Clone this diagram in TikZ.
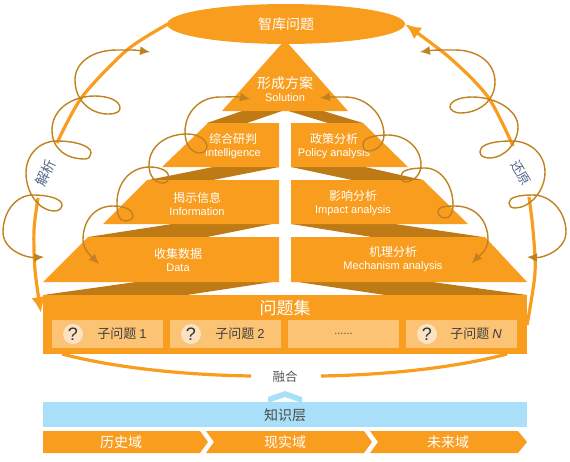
\documentclass[tikz,border=0pt]{standalone}
\usepackage{fontspec}
\setmainfont{Liberation Sans}
\newfontfamily\cjk{Noto Sans CJK SC}
\usepackage{tikz}
\usetikzlibrary{arrows.meta,positioning,shapes.geometric}

\definecolor{barorange}{HTML}{F99D1F}
\definecolor{banddark}{HTML}{BE7A14}
\definecolor{loopbrown}{HTML}{C0811F}
\definecolor{subfill}{HTML}{FCC375}
\definecolor{markfill}{HTML}{FBE2C2}
\definecolor{skyblue}{HTML}{A9DFF8}
\definecolor{slate}{HTML}{55688A}

\begin{document}
\begin{tikzpicture}[x=1pt,y=-1pt,>=Latex,
  block/.style={fill=barorange},
  band/.style={fill=banddark},
  toplabel/.style={text=white,align=center,inner sep=0pt,font=\cjk\fontsize{13}{15}\selectfont},
  twolabel/.style={text=white,align=center,inner sep=0pt},
  subbox/.style={fill=subfill,minimum width=111pt,minimum height=28pt,inner sep=0pt,outer sep=0pt},
  qmark/.style={circle,fill=markfill,minimum size=20pt,inner sep=0pt,text=black!80,font=\fontsize{18}{18}\selectfont},
  subtext/.style={text=black!75,inner sep=0pt,font=\cjk\fontsize{13}{15}\selectfont},
  bigarc/.style={draw=barorange,line width=3.2pt},
  bigtip/.style={-{Latex[length=16pt,width=14pt]}},
  looper/.style={draw=loopbrown,line width=1.4pt,{Latex[length=10pt,width=9pt]}-{Latex[length=10pt,width=9pt]}},
  sidelabel/.style={text=slate,inner sep=0pt,font=\cjk\fontsize{14}{16}\selectfont}]
  \useasboundingbox (0,0) rectangle (570,461);
  % pyramid, left and right
  \fill[band] (207,123) -- (245,110) -- (285,110) -- (247,123) -- cycle;
  \fill[band] (285,110) -- (320,110) -- (363,123) -- (328,123) -- cycle;
  \fill[band] (148,180) -- (213,167) -- (279,167) -- (213,180) -- cycle;
  \fill[band] (291,167) -- (365,167) -- (423,180) -- (352,180) -- cycle;
  \fill[band] (88,237) -- (172,224) -- (272,224) -- (207,237) -- cycle;
  \fill[band] (291,224) -- (395,224) -- (483,237) -- (372,237) -- cycle;
  \fill[band] (43,295) -- (143,281) -- (279,281) -- (180,296) -- cycle;
  \fill[band] (291,281) -- (425,281) -- (527,295) -- (392,296) -- cycle;
  \fill[block] (285,40) -- (222,111) -- (348,111) -- cycle;
  \fill[block] (208,123) -- (279,123) -- (279,167) -- (162,167) -- cycle;
  \fill[block] (147,180) -- (279,180) -- (279,224) -- (103,224) -- cycle;
  \fill[block] (88,237) -- (279,237) -- (279,282) -- (43,282) -- cycle;
  \fill[block] (291,123) -- (363,123) -- (408,167) -- (291,167) -- cycle;
  \fill[block] (291,180) -- (423,180) -- (468,224) -- (291,224) -- cycle;
  \fill[block] (291,237) -- (485,237) -- (527,282) -- (291,282) -- cycle;
  \node[block,ellipse,minimum width=238pt,minimum height=40pt,inner sep=0pt,text=white,
    font=\cjk\fontsize{14}{16}\selectfont] (think) at (286,24) {智库问题};
  % labels of the pyramid
  \node[twolabel] (solution) at (285,89) {{\cjk\fontsize{14}{16}\selectfont 形成方案}\\[1pt]{\fontsize{11}{12}\selectfont Solution}};
  \node[twolabel] (intel) at (233,146) {{\cjk\fontsize{12}{14}\selectfont 综合研判}\\[1pt]{\fontsize{11}{12}\selectfont Intelligence}};
  \node[twolabel] (info) at (197,204) {{\cjk\fontsize{12}{14}\selectfont 揭示信息}\\[1pt]{\fontsize{11}{12}\selectfont Information}};
  \node[twolabel] (data) at (178,260) {{\cjk\fontsize{12}{14}\selectfont 收集数据}\\[1pt]{\fontsize{11}{12}\selectfont Data}};
  \node[twolabel] (policy) at (334,146) {{\cjk\fontsize{12}{14}\selectfont 政策分析}\\[1pt]{\fontsize{11}{12}\selectfont Policy analysis}};
  \node[twolabel] (impact) at (353,203) {{\cjk\fontsize{12}{14}\selectfont 影响分析}\\[1pt]{\fontsize{11}{12}\selectfont Impact analysis}};
  \node[twolabel] (mech) at (393,259) {{\cjk\fontsize{12}{14}\selectfont 机理分析}\\[1pt]{\fontsize{11}{12}\selectfont Mechanism analysis}};
  % problem set
  \fill[block] (43,295) rectangle (527,354);
  \node[toplabel,font=\cjk\fontsize{17}{19}\selectfont] (problems) at (285,308) {问题集};
  \node[subbox] (sub1) at (107.5,334) {};
  \node[subbox,right=7pt of sub1] (sub2) {};
  \node[subbox,right=7pt of sub2] (sub3) {\fontsize{11}{12}\selectfont \textcolor{black!70}{......}};
  \node[subbox,right=7pt of sub3] (sub4) {};
  \foreach \n/\t in {sub1/1,sub2/2,sub4/\textit{N}}{
    \node[qmark,xshift=-34.5pt] (\n q) at (\n) {?};
    \node[subtext,xshift=14.5pt] (\n t) at (\n) {子问题 {\fontsize{13}{15}\selectfont\rmfamily\t}};
  }
  % merge and knowledge layer
  \node[text=black!65,inner sep=0pt,font=\cjk\fontsize{12.5}{15}\selectfont] (merge) at (285,377) {融合};
  \coordinate (mergeL) at (251,376);
  \coordinate (mergeR) at (321,376);
  \coordinate (setL) at (62,354);
  \coordinate (setR) at (507,354);
  \draw[bigarc] (setL) .. controls (120,369) and (190,375) .. (mergeL);
  \draw[bigarc] (setR) .. controls (450,369) and (380,375) .. (mergeR);
  \fill[skyblue] (268,403) -- (268,397) -- (285,391) -- (302,397) -- (302,403) -- (285,397) -- cycle;
  \fill[skyblue] (43,402) rectangle (527,427);
  \node[text=black!70,inner sep=0pt,font=\cjk\fontsize{14}{16}\selectfont] (layer) at (285,415) {知识层};
  % three domains
  \fill[block] (43,431) -- (200,431) -- (208,442) -- (200,453) -- (43,453) -- cycle;
  \fill[block] (206,431) -- (364,431) -- (372,442) -- (364,453) -- (206,453) -- (214,442) -- cycle;
  \fill[block] (370,431) -- (518,431) -- (527,442) -- (518,453) -- (370,453) -- (378,442) -- cycle;
  \node[toplabel,font=\cjk\fontsize{14}{16}\selectfont] (past) at (121,442) {历史域};
  \node[toplabel,font=\cjk\fontsize{14}{16}\selectfont] (now) at (285,442) {现实域};
  \node[toplabel,font=\cjk\fontsize{14}{16}\selectfont] (future) at (448,442) {未来域};
  % big arcs
  \draw[bigarc] plot[smooth] coordinates {(168,24) (127,50) (82,97) (57,143)};
  \draw[bigarc,bigtip] plot[smooth] coordinates {(38,198) (34,230) (35,270) (41,313)};
  \draw[bigarc,bigtip] plot[smooth] coordinates {(513,146) (488,97) (450,58) (405,24)};
  \draw[bigarc] plot[smooth] coordinates {(527,325) (535,273) (533,230) (529,197)};
  \node[sidelabel,rotate=65] (parse) at (46,173) {解析};
  \node[sidelabel,rotate=-58,font=\cjk\fontsize{13}{15}\selectfont] (restore) at (521,173) {还原};
  % spirals
  \draw[looper] (150,52) .. controls +(-15,-2) and +(22,0) .. (117,50)
    .. controls +(-24,0) and +(0,-18) .. (75,80)
    .. controls +(0,20) and +(-18,0) .. (108,114)
    .. controls +(8,0) and +(0,4) .. (120,108)
    .. controls +(0,-7) and +(14,0) .. (95,96)
    .. controls +(-24,0) and +(0,-20) .. (52,130)
    .. controls +(0,18) and +(-20,0) .. (85,159)
    .. controls +(4,0) and +(0,3) .. (91,153)
    .. controls +(0,-8) and +(16,0) .. (57,141)
    .. controls +(-18,0) and +(0,-18) .. (26,173)
    .. controls +(0,20) and +(-16,0) .. (55,211)
    .. controls +(4,0) and +(0,3) .. (62,205)
    .. controls +(0,-6) and +(16,0) .. (33,195)
    .. controls +(-17,0) and +(0,-20) .. (3,232)
    .. controls +(0,18) and +(-18,1) .. (44,257);
  \draw[looper] (250,99) .. controls +(-15,-3) and +(17,0) .. (220,97)
    .. controls +(-20,0) and +(0,-20) .. (185,132)
    .. controls +(0,12) and +(-9,0) .. (200,153)
    .. controls +(4,0) and +(0,3) .. (207,147)
    .. controls +(0,-7) and +(12,0) .. (187,134)
    .. controls +(-22,0) and +(0,-18) .. (149,165)
    .. controls +(0,11) and +(-8,0) .. (163,183)
    .. controls +(4,0) and +(0,3) .. (169,177)
    .. controls +(0,-6) and +(10,0) .. (150,167)
    .. controls +(-20,0) and +(0,-20) .. (117,203)
    .. controls +(0,11) and +(-6,0) .. (125,221)
    .. controls +(4,0) and +(0,3) .. (133,216)
    .. controls +(0,-6) and +(12,0) .. (113,206)
    .. controls +(-18,0) and +(0,-20) .. (83,240)
    .. controls +(0,10) and +(-6,-6) .. (99,264);
  \draw[looper] (420,52) .. controls +(14,-2) and +(-18,0) .. (455,50)
    .. controls +(22,0) and +(0,-20) .. (495,82)
    .. controls +(0,18) and +(20,0) .. (460,113)
    .. controls +(-5,0) and +(0,3) .. (450,107)
    .. controls +(0,-6) and +(-12,0) .. (472,97)
    .. controls +(24,0) and +(0,-17) .. (518,127)
    .. controls +(0,16) and +(14,0) .. (490,158)
    .. controls +(-6,0) and +(0,4) .. (480,152)
    .. controls +(0,-8) and +(-18,0) .. (512,141)
    .. controls +(18,0) and +(0,-18) .. (545,172)
    .. controls +(0,20) and +(14,0) .. (515,208)
    .. controls +(-4,0) and +(0,3) .. (509,203)
    .. controls +(0,-6) and +(-14,0) .. (533,195)
    .. controls +(18,0) and +(0,-20) .. (566,232)
    .. controls +(0,18) and +(16,1) .. (527,257);
  \draw[looper] (320,98) .. controls +(8,-1) and +(-10,0) .. (345,97)
    .. controls +(22,0) and +(0,-20) .. (384,135)
    .. controls +(0,10) and +(8,0) .. (368,151)
    .. controls +(-4,0) and +(0,4) .. (363,144)
    .. controls +(0,-6) and +(-14,0) .. (388,135)
    .. controls +(18,0) and +(0,-17) .. (421,165)
    .. controls +(0,10) and +(8,0) .. (405,182)
    .. controls +(-3,0) and +(0,3) .. (401,176)
    .. controls +(0,-6) and +(-14,0) .. (425,168)
    .. controls +(16,0) and +(0,-20) .. (453,205)
    .. controls +(0,8) and +(5,0) .. (445,218)
    .. controls +(-4,0) and +(0,4) .. (438,211)
    .. controls +(0,-4) and +(-10,0) .. (455,206)
    .. controls +(20,0) and +(0,-20) .. (488,240)
    .. controls +(0,10) and +(6,-6) .. (472,263);
\end{tikzpicture}
\end{document}
